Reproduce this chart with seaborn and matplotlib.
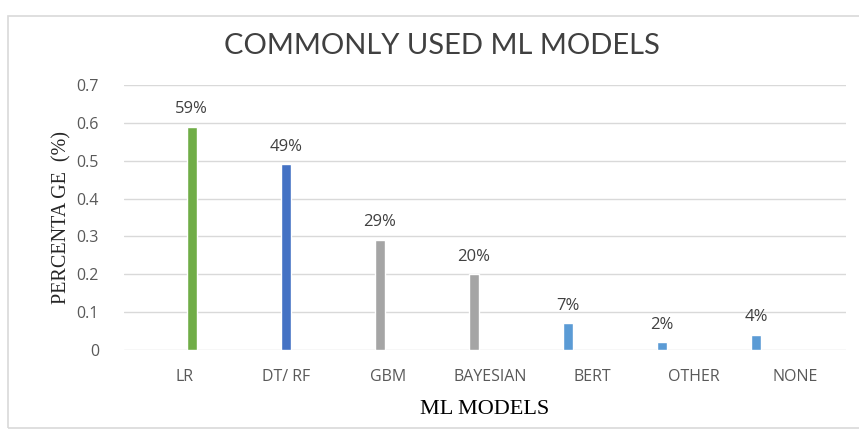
import matplotlib
matplotlib.use("Agg")
import matplotlib.pyplot as plt
import seaborn as sns
import pandas as pd
from matplotlib.patches import FancyBboxPatch

models = ["LR", "DT/ RF", "GBM", "BAYESIAN", "BERT", "OTHER", "NONE"]
values = [0.59, 0.49, 0.29, 0.20, 0.07, 0.02, 0.04]
value_labels = ["59%", "49%", "29%", "20%", "7%", "2%", "4%"]
colors = ["#70AD47", "#4472C4", "#A5A5A5", "#A5A5A5", "#5B9BD5", "#5B9BD5", "#5B9BD5"]
yticks = [0, 0.1, 0.2, 0.3, 0.4, 0.5, 0.6, 0.7]
ytick_labels = ["0", "0.1", "0.2", "0.3", "0.4", "0.5", "0.6", "0.7"]

sns.set_theme(style="white")
plt.rcParams["font.family"] = ["Open Sans", "DejaVu Sans"]

df = pd.DataFrame({"model": models, "value": values})

fig = plt.figure(figsize=(8.59, 4.33), dpi=100)
ax = fig.add_axes([0.1443, 0.1917, 0.84, 0.612])

sns.barplot(data=df, x="model", y="value", hue="model", palette=colors,
            legend=False, width=0.11, saturation=1, ax=ax, zorder=3)

ax.set_ylim(0, 0.7)
ax.set_xlim(-0.72, 6.95)
ax.set_yticks(yticks)
ax.set_yticklabels(ytick_labels, fontsize=11.5, color="#595959")
ax.yaxis.grid(True, color="#D9D9D9", linewidth=1)
ax.xaxis.grid(False)
for s in ["top", "right", "left", "bottom"]:
    ax.spines[s].set_visible(False)
ax.tick_params(axis="y", length=0, pad=18)
ax.tick_params(axis="x", length=0, pad=14)

tick_pos = [-0.074 + 1.082 * i for i in range(len(models))]
ax.set_xticks(tick_pos)
ax.set_xticklabels(models, fontsize=11.5, color="#595959")

for cont in ax.containers:
    for bar in cont:
        i = int(round(bar.get_x() + bar.get_width() / 2))
        ax.annotate(value_labels[i], (bar.get_x() + bar.get_width() / 2, bar.get_height()),
                    xytext=(0, 7), textcoords="offset points", ha="center", va="bottom",
                    fontsize=12, color="#404040")

ax.set_xlabel("ML MODELS", family="Liberation Serif", fontsize=16, color="black", labelpad=6)
ax.set_ylabel("PERCENTA GE  (%)", family="Liberation Serif", fontsize=14.5, color="#262626", labelpad=4)
ax.xaxis.set_label_coords(0.5, -0.19)

fig.text(0.514, 0.893, "COMMONLY USED ML MODELS", ha="center", va="center",
         fontsize=21, color="#404040", family=["Lato"])

border = FancyBboxPatch((0.009, 0.012), 1.2, 0.952, boxstyle="square,pad=0",
                        transform=fig.transFigure, fill=False, edgecolor="#D9D9D9",
                        linewidth=1.2, zorder=0)
fig.patches.append(border)

fig.savefig("out.png", dpi=100)
